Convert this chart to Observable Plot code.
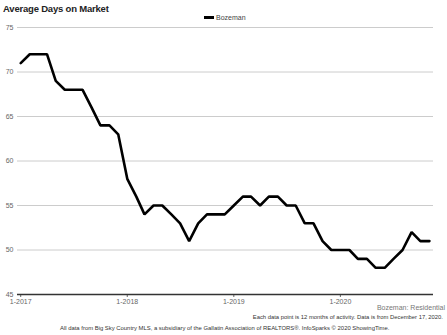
<!DOCTYPE html>
<html><head><meta charset="utf-8">
<script src="https://cdn.jsdelivr.net/npm/d3@7"></script>
<script src="https://cdn.jsdelivr.net/npm/@observablehq/plot@0.6"></script>
<style>
body{margin:0;background:#fff;font-family:"Liberation Sans",Arial,sans-serif;}
#wrap{position:relative;width:447px;height:335px;overflow:hidden;}
#chart{position:absolute;left:0;top:0;}
.t{position:absolute;white-space:nowrap;}
</style></head><body>
<div id="wrap">
<div id="chart"></div>
<div class="t" style="left:3px;top:3px;font-size:9.5px;letter-spacing:-0.2px;font-weight:bold;color:#222;">Average Days on Market</div>
<div class="t" style="left:204px;top:14px;font-size:7px;color:#444;"><span style="display:inline-block;width:10px;height:3px;background:#000;vertical-align:middle;margin-right:2px;position:relative;top:-1px;"></span>Bozeman</div>
<div class="t" style="right:2px;top:304px;font-size:7px;color:#777;">Bozeman: Residential</div>
<div class="t" style="right:4px;top:314px;font-size:5.85px;color:#333;">Each data point is 12 months of activity. Data is from December 17, 2020.</div>
<div class="t" style="left:60px;top:325px;font-size:5.9px;color:#333;">All data from Big Sky Country MLS, a subsidiary of the Gallatin Association of REALTORS®. InfoSparks © 2020 ShowingTime.</div>
</div>
<script>
const startYear = 2017, startMonth = 0;
const values = [71,72,72,72,69,68,68,68,66,64,64,63,
                58,56,54,55,55,54,53,51,53,54,54,54,
                55,56,56,55,56,56,55,55,53,53,51,50,
                50,50,49,49,48,48,49,50,52,51,51];
const yTicks = [45,50,55,60,65,70,75];
const xTickYears = [2017,2018,2019,2020];
const data = values.map((v,i)=>({date:new Date(startYear, startMonth+i, 1), value:v}));
const plot = Plot.plot({
  width:447, height:310,
  marginTop:27, marginBottom:16, marginLeft:17, marginRight:14,
  style:{fontFamily:"Liberation Sans, Arial, sans-serif", fontSize:"7px", color:"#666", background:"transparent"},
  x:{type:"utc", domain:[new Date(2016,11,21), new Date(2020,10,15)], ticks: xTickYears.map(y=>new Date(y,0,1)),
     tickFormat:d=>"1-"+d.getFullYear(), tickSize:3, tickPadding:2, label:null},
  y:{domain:[45,75], ticks:yTicks, tickSize:0, tickPadding:4, label:null},
  marks:[
    Plot.ruleY(yTicks.filter(t=>t>45), {stroke:"#ccc", strokeWidth:1, strokeOpacity:1}),
    Plot.ruleY([45], {stroke:"#333", strokeWidth:1.5}),
    Plot.line(data, {x:"date", y:"value", stroke:"#000", strokeWidth:2.6, strokeLinejoin:"miter"})
  ]
});
document.getElementById("chart").appendChild(plot);
</script>
</body></html>
